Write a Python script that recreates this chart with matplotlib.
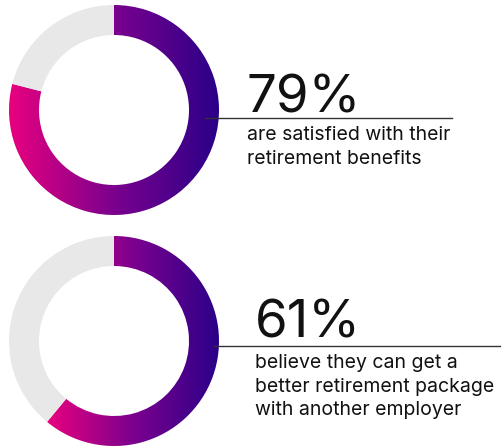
import numpy as np
import matplotlib
matplotlib.use("Agg")
import matplotlib.pyplot as plt
from matplotlib.patches import Wedge
from matplotlib.colors import LinearSegmentedColormap

# survey results
percents = [79, 61]
big_labels = ["79%", "61%"]
captions = [
    ["are satisfied with their", "retirement benefits"],
    ["believe they can get a", "better retirement package", "with another employer"],
]

W, H = 502, 448
fig = plt.figure(figsize=(W / 100, H / 100), dpi=100)
ax = fig.add_axes([0, 0, 1, 1])
ax.set_xlim(0, W)
ax.set_ylim(0, H)
ax.set_aspect("equal")
ax.axis("off")

grad = LinearSegmentedColormap.from_list("pinkindigo", ["#E8007F", "#7A008E", "#2A0088"])

centers = [(114, H - 110), (114, H - 341)]
r_out, width = 105, 30
line_y = [H - 118, H - 346]
line_x = [(205, 452), (214, 502)]
text_x = [247, 255]
big_y = [H - 112, H - 337]
cap_y = [H - 140, H - 368]
cap_step = 23.5

for i, pct in enumerate(percents):
    cx, cy = centers[i]
    sweep = pct / 100 * 360
    # remainder in light grey
    ax.add_patch(Wedge((cx, cy), r_out, 90, 90 + 360 - sweep, width=width,
                       facecolor="#E8E8E8", edgecolor="none"))
    # filled part, clockwise from the top, with a left-to-right gradient
    w = Wedge((cx, cy), r_out, 90 - sweep, 90, width=width,
              facecolor="none", edgecolor="none")
    ax.add_patch(w)
    verts = w.get_path().vertices
    x0, x1 = verts[:, 0].min(), verts[:, 0].max()
    img = ax.imshow(np.linspace(0, 1, 256)[None, :], cmap=grad, aspect="auto",
                    extent=[x0, x1, cy - r_out, cy + r_out], interpolation="bilinear")
    img.set_clip_path(w)

    ax.plot(line_x[i], [line_y[i]] * 2, color="#333333", lw=1.0)
    ax.text(text_x[i], big_y[i], big_labels[i], fontsize=38, family="Inter",
            color="#111111", va="baseline", ha="left")
    for j, line in enumerate(captions[i]):
        ax.text(text_x[i], cap_y[i] - j * cap_step, line, fontsize=14, family="Inter",
                color="#111111", va="baseline", ha="left")

fig.savefig("out.png", dpi=100)
